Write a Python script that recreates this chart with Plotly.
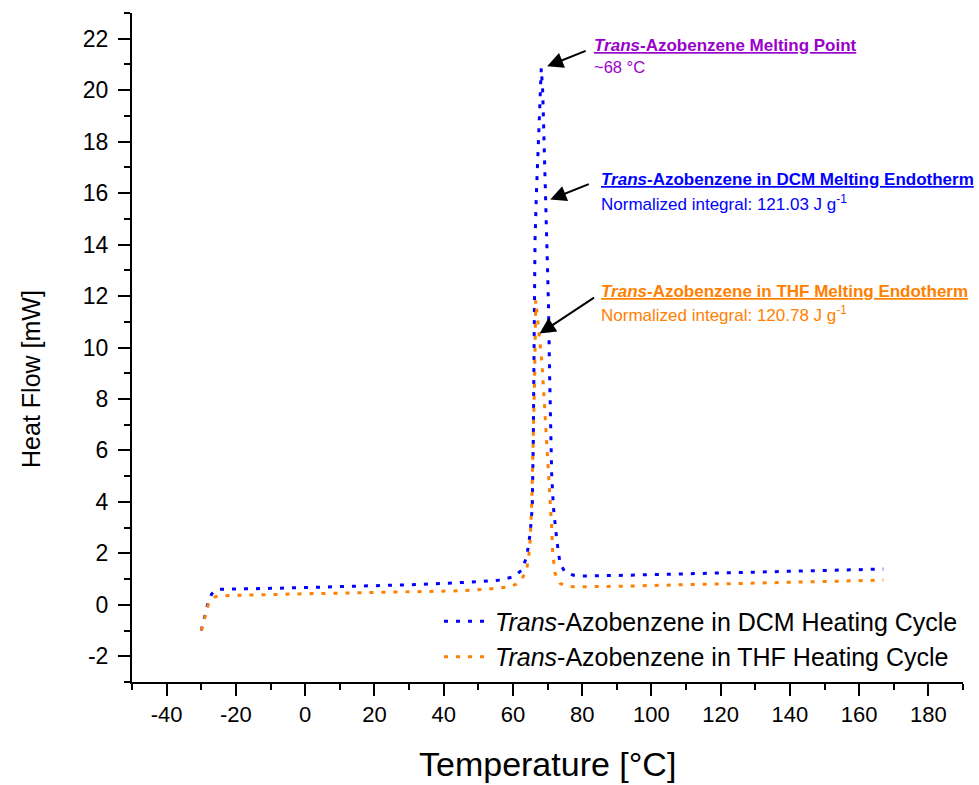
import plotly.graph_objects as go

# DSC heating cycles of trans-azobenzene recrystallised from two solvents
dcm_temp = [-30, -29, -28, -27, -26, -25, -20, -10, 0, 10, 20, 30, 40, 45, 50, 56.3, 60.2,
            62.6, 64.0, 65.0, 65.6, 65.9, 66.1, 66.4, 66.8, 67.4, 67.9, 68.2, 68.6, 69.0,
            69.3, 69.8, 70.3, 70.6, 70.8, 71.2, 71.7, 72.7, 73.6, 75.0, 77.5, 80, 90, 100,
            110, 120, 130, 140, 150, 160, 167]
dcm_flow = [-1.0, -0.4, 0.1, 0.42, 0.55, 0.6, 0.62, 0.64, 0.67, 0.70, 0.74, 0.78, 0.83, 0.86,
            0.90, 0.96, 1.09, 1.35, 1.87, 2.78, 3.8, 6.4, 9.0, 14.2, 16.0, 18.0, 19.6, 20.85,
            20.0, 18.0, 16.0, 13.9, 11.6, 9.0, 7.06, 5.1, 3.8, 2.5, 1.62, 1.28, 1.15, 1.12,
            1.14, 1.17, 1.20, 1.23, 1.26, 1.30, 1.33, 1.36, 1.39]

thf_temp = [-30, -29, -28, -27, -26, -25, -20, -10, 0, 10, 20, 30, 40, 46, 52, 56, 59, 61,
            62, 63, 63.9, 64.5, 65.0, 65.5, 65.9, 66.3, 66.6, 67.4, 67.9, 68.4, 68.8, 69.3,
            69.8, 70.3, 70.8, 71.2, 71.5, 72.2, 73.6, 75, 77.5, 80, 90, 100, 110, 120, 130,
            140, 150, 160, 167]
thf_flow = [-1.0, -0.45, 0.0, 0.22, 0.31, 0.35, 0.37, 0.40, 0.43, 0.45, 0.48, 0.51, 0.53,
            0.55, 0.60, 0.65, 0.70, 0.80, 0.90, 1.1, 1.3, 1.8, 2.5, 4.2, 6.4, 9.0, 11.84,
            10.8, 10.3, 9.4, 8.5, 7.45, 6.4, 5.36, 4.3, 3.03, 2.0, 1.22, 0.83, 0.75, 0.70,
            0.70, 0.72, 0.75, 0.78, 0.81, 0.84, 0.87, 0.90, 0.93, 0.96]

x_ticks = [-40, -20, 0, 20, 40, 60, 80, 100, 120, 140, 160, 180]
y_ticks = [-2, 0, 2, 4, 6, 8, 10, 12, 14, 16, 18, 20, 22]

series_names = ["<i>Trans</i>-Azobenzene in DCM Heating Cycle",
                "<i>Trans</i>-Azobenzene in THF Heating Cycle"]

BLUE = "#0000FF"
ORANGE = "#FF8000"
PURPLE = "#9A00CC"
FONT = "Liberation Sans, Arial, sans-serif"

fig = go.Figure()
fig.add_trace(go.Scatter(x=dcm_temp, y=dcm_flow, mode="lines", name=series_names[0],
                         line=dict(color=BLUE, width=3, dash="4px,8px")))
fig.add_trace(go.Scatter(x=thf_temp, y=thf_flow, mode="lines", name=series_names[1],
                         line=dict(color=ORANGE, width=3, dash="4px,8px")))

# callout texts (paper coordinates) and their arrows (data coordinates)
def label(xp, yp, text, color, size=17):
    fig.add_annotation(xref="paper", yref="paper", x=xp, y=yp, text=text, showarrow=False,
                       xanchor="left", yanchor="middle", align="left",
                       font=dict(family=FONT, size=size, color=color))

def arrow(x, y, ax, ay):
    fig.add_annotation(x=x, y=y, ax=ax, ay=ay, text="", showarrow=True, arrowhead=2,
                       arrowsize=1.6, arrowwidth=2, arrowcolor="black")

label(0.554, 0.952, "<b><u><i>Trans</i>-Azobenzene Melting Point</u></b>", PURPLE)
label(0.554, 0.920, "~68 °C", PURPLE, 16.5)
arrow(69.9, 20.93, 40, -16)

label(0.562, 0.7515, "<b><u><i>Trans</i>-Azobenzene in DCM Melting Endotherm</u></b>", BLUE)
label(0.562, 0.716, "Normalized integral: 121.03 J g<sup>-1</sup>", BLUE, 17)
arrow(70.8, 15.75, 40, -16)

label(0.562, 0.584, "<b><u><i>Trans</i>-Azobenzene in THF Melting Endotherm</u></b>", ORANGE)
label(0.562, 0.550, "Normalized integral: 120.78 J g<sup>-1</sup>", ORANGE, 17)
arrow(67.7, 10.54, 56, -37)

# axis titles
fig.add_annotation(xref="paper", yref="paper", x=0, y=0.453, xshift=-101, xanchor="center",
                   yanchor="middle", textangle=-90, showarrow=False, text="Heat Flow [mW]",
                   font=dict(family=FONT, size=25, color="black"))
fig.add_annotation(xref="paper", yref="paper", x=0.5, y=0, yshift=-82, xanchor="center",
                   yanchor="middle", showarrow=False, text="Temperature [°C]",
                   font=dict(family=FONT, size=34, color="black"))

axis_common = dict(showline=True, linecolor="black", linewidth=2, ticks="outside",
                   ticklen=12, tickwidth=2, tickcolor="black", showgrid=False,
                   zeroline=False, automargin=False)

fig.update_xaxes(range=[-50, 190], tickmode="array", tickvals=x_ticks,
                 ticktext=[str(v) for v in x_ticks],
                 tickfont=dict(family=FONT, size=22, color="black"),
                 minor=dict(tickmode="linear", tick0=-50, dtick=10, ticks="outside",
                            ticklen=6, tickwidth=2, tickcolor="black"),
                 **axis_common)
fig.update_yaxes(range=[-3, 23], tickmode="array", tickvals=y_ticks,
                 ticktext=[str(v) for v in y_ticks],
                 tickfont=dict(family=FONT, size=23, color="black"),
                 minor=dict(tickmode="linear", tick0=-3, dtick=1, ticks="outside",
                            ticklen=6, tickwidth=2, tickcolor="black"),
                 ticklabelstandoff=5,
                 **axis_common)

fig.update_layout(
    width=979, height=785,
    margin=dict(l=132, r=16, t=13, b=103),
    paper_bgcolor="white", plot_bgcolor="white",
    font=dict(family=FONT, color="black"),
    legend=dict(x=1.0, xanchor="right", y=0.125, yanchor="top",
                bgcolor="rgba(0,0,0,0)", borderwidth=0, itemwidth=46,
                tracegroupgap=0, font=dict(family=FONT, size=25, color="black")),
)

fig.write_html("out.html")
